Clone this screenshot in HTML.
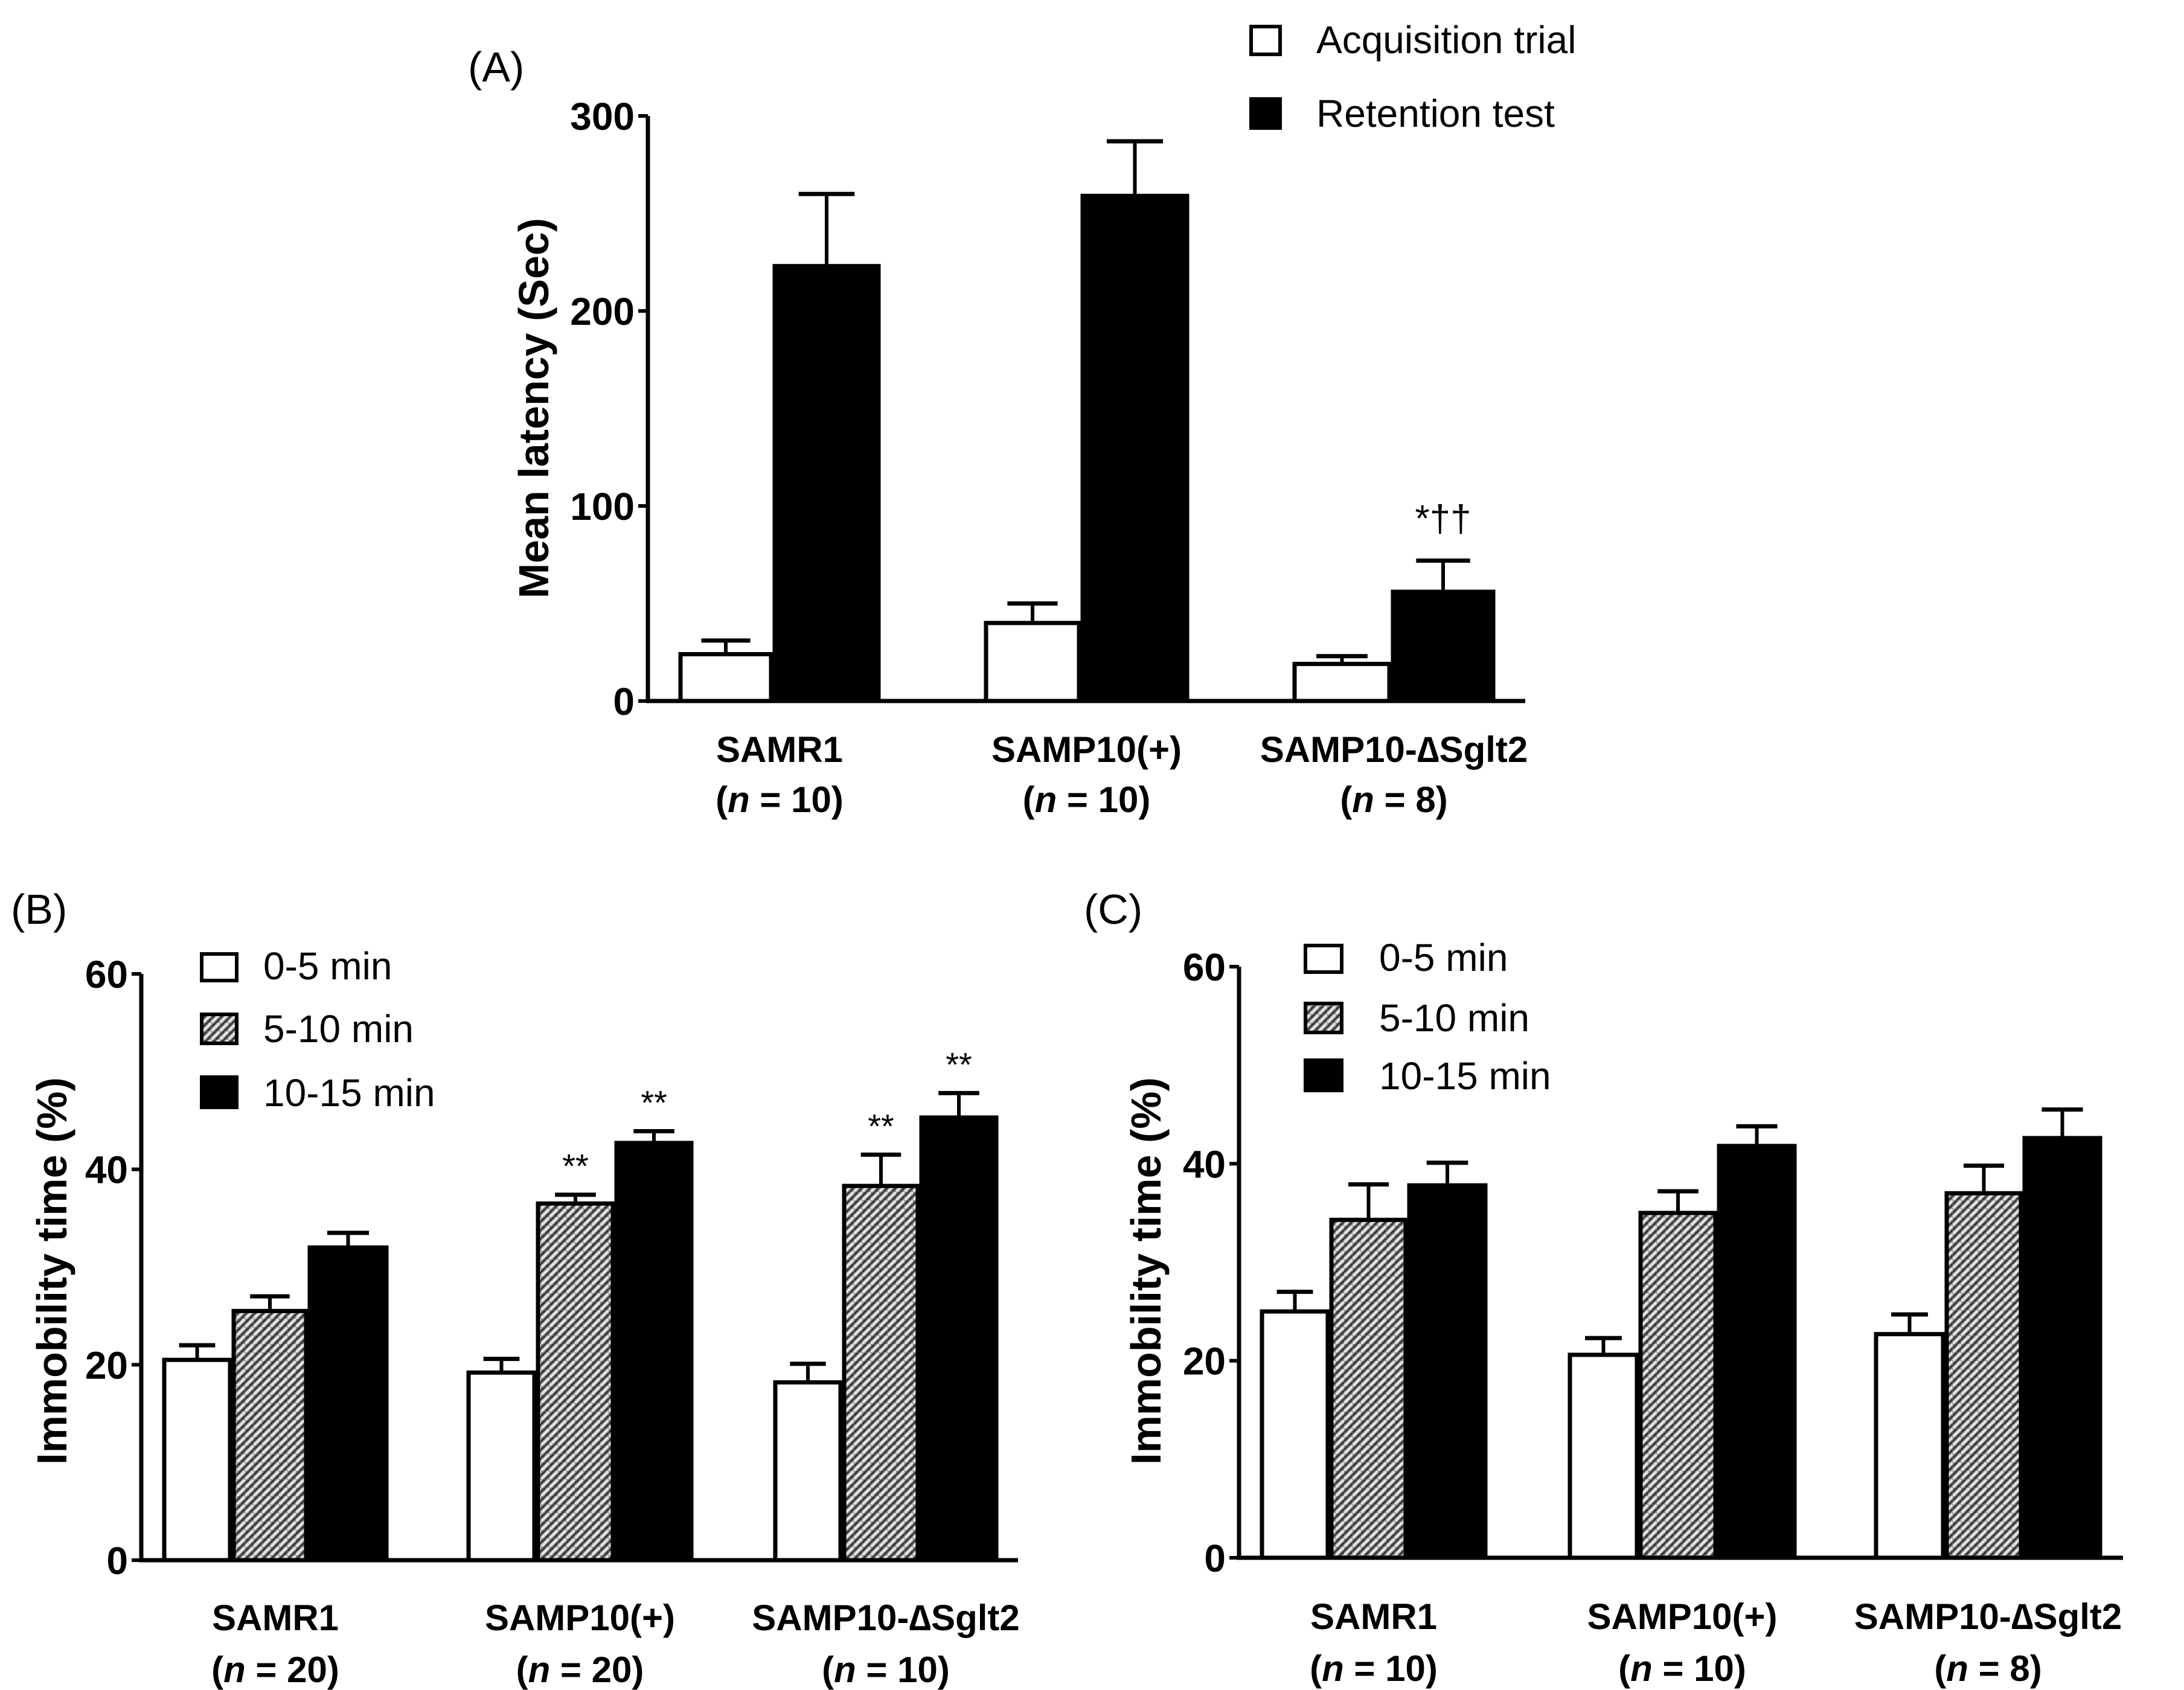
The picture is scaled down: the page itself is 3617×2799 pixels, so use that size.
<!DOCTYPE html>
<html><head><meta charset="utf-8"><style>
html,body{margin:0;padding:0;background:#fff;}
svg{display:block;}
text{font-family:"Liberation Sans",Arial,sans-serif;}
</style></head><body>
<svg id="fig" width="3617" height="2799" viewBox="0 0 3617 2799" xmlns="http://www.w3.org/2000/svg">
<defs>
<pattern id="hatch" width="14" height="14" patternUnits="userSpaceOnUse">
<rect width="14" height="14" fill="#8a8a8a"/>
<path d="M0 14 L14 0" stroke="#e4e4e4" stroke-width="4"/>
<path d="M0 7 L7 0 M7 14 L14 7" stroke="#333" stroke-width="3"/>
</pattern>
</defs>
</svg>
<script>
// Panel A data
const aCats=["SAMR1","SAMP10(+)","SAMP10-\u2206Sglt2"];
const aN=["10","10","8"];
const aAcq=[24,40,19];
const aAcqErr=[7,10,4];
const aRet=[223,259,56];
const aRetErr=[37,28,16];
const aTicks=[0,100,200,300];
// Panel B data
const bN=["20","20","10"];
const b05=[20.5,19.2,18.2];
const b05Err=[1.5,1.4,1.9];
const b510=[25.5,36.5,38.3];
const b510Err=[1.5,0.9,3.2];
const b1015=[32,42.7,45.3];
const b1015Err=[1.5,1.2,2.5];
const bStars=["","**","**"];
const bStars2=["","**","**"];
// Panel C data
const cN=["10","10","8"];
const c05=[25,20.6,22.7];
const c05Err=[2,1.7,2];
const c510=[34.3,35,37];
const c510Err=[3.6,2.2,2.8];
const c1015=[37.8,41.8,42.6];
const c1015Err=[2.3,2,2.9];
const immTicks=[0,20,40,60];

const NS="http://www.w3.org/2000/svg";
const svg=document.getElementById('fig');
function el(tag,attrs,parent){const e=document.createElementNS(NS,tag);for(const k in attrs)e.setAttribute(k,attrs[k]);(parent||svg).appendChild(e);return e;}
function txt(s,x,y,size,opts,parent){opts=opts||{};const t=el('text',{x:x,y:y,'font-size':size,'font-weight':opts.bold?'bold':'normal','text-anchor':opts.anchor||'start',fill:'#000'},parent);if(opts.rot)t.setAttribute('transform','rotate(-90 '+x+' '+y+')');t.textContent=s;return t;}

function panel(cfg){
  const g=el('g',{});
  
  
  const y=v=>cfg.y0-(v-cfg.vmin)/(cfg.vmax-cfg.vmin)*(cfg.y0-cfg.ytop);
  const ax=el('path',{d:`M${cfg.ax} ${cfg.ytop} V${cfg.y0} H${cfg.xend}`,stroke:'#000','stroke-width':7,fill:'none'},g);
  
  
  cfg.ticks.forEach(t=>{
    const tk=el('line',{x1:cfg.ax-16,x2:cfg.ax,y1:y(t),y2:y(t),stroke:'#000','stroke-width':6},g);
    
    
    const tl=txt(String(t),cfg.ax-22,y(t)+23,64,{bold:true,anchor:'end'},g);
    
    
  });
  const yt=txt(cfg.ytitle,cfg.ytx,cfg.yty,70,{bold:true,anchor:'middle',rot:true},g);
  
  
  cfg.groups.forEach((grp,gi)=>{
    cfg.series.forEach((s,si)=>{
      const x0=grp[si],x1=grp[si+1];const v=s.vals[gi],e=s.err[gi];
      const top=y(v);const cx=(x0+x1)/2;const hw=(x1-x0)*0.26;
      const eb=el('line',{x1:cx,x2:cx,y1:top,y2:y(v+e),stroke:'#000','stroke-width':6},g);
      
      
      const cap=el('line',{x1:cx-hw,x2:cx+hw,y1:y(v+e),y2:y(v+e),stroke:'#000','stroke-width':7},g);
      
      
      const r=el('rect',{x:x0+3,y:top,width:x1-x0-6,height:cfg.y0-top,fill:s.fill,stroke:'#000','stroke-width':7},g);
      
      
      if(s.stars&&s.stars[gi]){
        const st=txt(s.stars[gi],cx,y(v+e)-28,56,{anchor:'middle'},g);
        
        
      }
    });
    const cx=(grp[0]+grp[grp.length-1])/2;
    const c1=txt(cfg.cats[gi],cx,cfg.lab1,60,{bold:true,anchor:'middle'},g);
    
    
    const c2=el('text',{x:cx,y:cfg.lab2,'font-size':60,'font-weight':'bold','text-anchor':'middle'},g);
    
    
    c2.innerHTML='(<tspan font-style="italic">n</tspan> = '+cfg.ns[gi]+')';
  });
  const pl=txt(cfg.letter,cfg.lx,cfg.ly,70,{},g);
  
  
  cfg.legend.forEach((L,i)=>{
    const lr=el('rect',{x:cfg.legx,y:L.y,width:cfg.legw,height:L.h,fill:L.fill,stroke:'#000','stroke-width':6},g);
    
    
    const lt=txt(L.label,cfg.legtx,L.y+L.h-2,64,{},g);
    
    
  });
  return g;
}

panel({name:'panel-a',letter:'(A)',lx:775,ly:135,ax:1073,ytop:192,y0:1161,xend:2526,vmin:0,vmax:300,ticks:aTicks,
  ytitle:'Mean latency (Sec)',ytx:908,yty:676,cats:aCats,ns:aN,lab1:1262,lab2:1345,
  groups:[[1124,1280,1458],[1630,1790,1969],[2141,2304,2476]],
  series:[{key:'acquisition',vals:aAcq,err:aAcqErr,fill:'#fff'},{key:'retention',vals:aRet,err:aRetErr,fill:'#000'}],
  legx:2072,legw:48,legtx:2180,legend:[{y:44,h:46,fill:'#fff',label:'Acquisition trial'},{y:164,h:48,fill:'#000',label:'Retention test'}]});
const aSig=["","","*\u2020\u2020"];
aSig.forEach((s,i)=>{if(!s)return;const t=txt(s,2390,880,62,{anchor:'middle'});});

const immLegend=(ys)=>[{y:ys[0],h:44,fill:'#fff',label:'0-5 min'},{y:ys[1],h:48,fill:'url(#hatch)',label:'5-10 min'},{y:ys[2],h:50,fill:'#000',label:'10-15 min'}];
panel({name:'panel-b',letter:'(B)',lx:18,ly:1530,ax:234,ytop:1613,y0:2584,xend:1686,vmin:0,vmax:60,ticks:immTicks,
  ytitle:'Immobility time (%)',ytx:110,yty:2105,cats:aCats,ns:bN,lab1:2700,lab2:2786,
  groups:[[269,384,510,643],[773,888,1018,1148],[1281,1395,1523,1653]],
  series:[{key:'0-5min',vals:b05,err:b05Err,fill:'#fff'},{key:'5-10min',vals:b510,err:b510Err,fill:'url(#hatch)',stars:bStars},{key:'10-15min',vals:b1015,err:b1015Err,fill:'#000',stars:bStars2}],
  legx:334,legw:58,legtx:436,legend:immLegend([1580,1680,1784])});
panel({name:'panel-c',letter:'(C)',lx:1795,ly:1530,ax:2052,ytop:1601,y0:2580,xend:3516,vmin:0,vmax:60,ticks:immTicks,
  ytitle:'Immobility time (%)',ytx:1922,yty:2105,cats:aCats,ns:cN,lab1:2698,lab2:2784,
  groups:[[2087,2202,2331,2463],[2597,2714,2844,2975],[3104,3221,3350,3481]],
  series:[{key:'0-5min',vals:c05,err:c05Err,fill:'#fff'},{key:'5-10min',vals:c510,err:c510Err,fill:'url(#hatch)'},{key:'10-15min',vals:c1015,err:c1015Err,fill:'#000'}],
  legx:2162,legw:60,legtx:2284,legend:immLegend([1566,1662,1756])});
</script>
</body></html>
